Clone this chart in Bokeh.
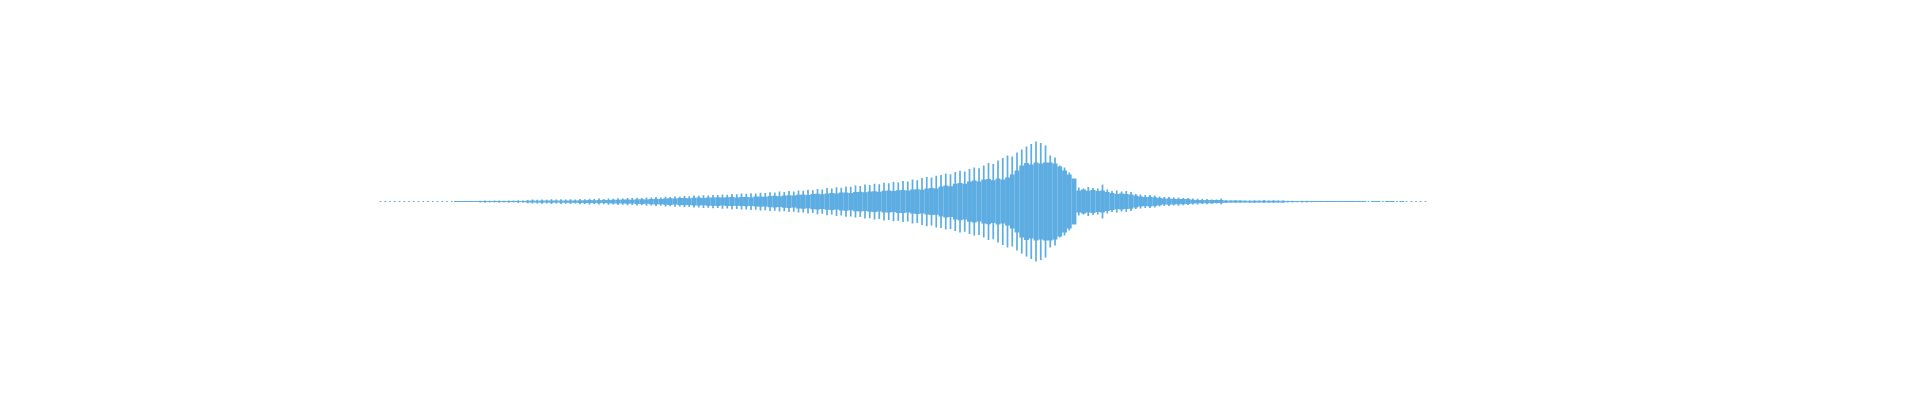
from bokeh.plotting import figure
from bokeh.models import ColumnDataSource, Range1d
from bokeh.embed import file_html
from bokeh.resources import INLINE

# envelope of the waveform, one value per period (half height, screen px)
peak = [
    0.5, 0.5, 0.5, 0.5, 0.5, 0.5, 0.5, 0.5, 0.5, 0.5,
    0.5, 0.5, 0.5, 0.5, 0.5, 0.5, 0.5, 0.5, 0.5, 0.5,
    0.5, 0.9, 1.1, 0.8, 1.0, 1.2, 0.9, 1.1, 1.0, 1.3,
    1.2, 1.6, 2.0, 1.8, 2.2, 1.9, 2.3, 2.0, 2.4, 2.1,
    2.3, 2.0, 2.6, 2.4, 2.8, 2.5, 3.0, 2.7, 3.2, 2.9,
    3.4, 3.1, 3.7, 3.5, 3.9, 3.6, 4.2, 4.0, 4.5, 4.2,
    4.8, 4.6, 5.2, 4.9, 5.7, 5.4, 6.0, 5.8, 6.4, 6.1,
    6.7, 6.5, 7.1, 6.9, 7.6, 7.3, 8.0, 7.8, 8.4, 8.1,
    8.9, 8.6, 9.4, 9.1, 10.0, 9.6, 10.5, 10.2, 11.0, 10.8,
    11.8, 11.3, 12.6, 12.2, 13.6, 13.0, 14.4, 13.9, 15.2, 14.8,
    16.0, 15.5, 17.0, 16.6, 17.9, 17.4, 18.8, 18.3, 19.6, 19.2,
    20.5, 20.0, 22.0, 21.4, 23.5, 24.6, 24.0, 25.8, 26.5, 28.0,
    27.4, 29.5, 30.8, 30.2, 32.5, 34.0, 33.3, 36.0, 38.5, 37.6,
    41.0, 43.5, 46.0, 45.0, 49.0, 52.0, 55.0, 57.5, 60.0, 58.5,
    56.0, 46.0, 44.0, 36.0, 34.0, 29.0, 15.0, 14.0, 13.0, 14.5,
    13.5, 13.0, 17.0, 12.0, 10.5, 11.0, 10.0, 10.5, 9.5, 7.5,
    7.0, 6.5, 6.5, 6.0, 5.0, 4.5, 4.5, 4.0, 4.2, 3.6,
    3.5, 3.0, 2.8, 2.5, 2.6, 2.2, 2.0, 3.0, 1.4, 1.2,
    1.3, 1.2, 1.0, 1.2, 1.4, 1.0, 1.5, 1.1, 1.3, 1.0,
    1.2, 0.8, 0.9, 0.7, 0.9, 0.8, 0.7, 0.5, 0.5, 0.5,
    0.5, 0.5, 0.5, 0.5, 0.5, 0.5, 0.5, 0.5, 0.5, 0.5,
    0.5, 0.5, 0.5, 0.5, 0.5, 0.5, 0.5, 0.5, 0.5, 0.5, 0.5,
]

# the filled body between the spikes
core = [
    0, 0, 0, 0, 0, 0, 0, 0, 0, 0, 0, 0, 0, 0, 0, 0,
    0.5, 0.5, 0.5, 0.5, 0.5,
    0.5, 0.5, 0.5, 0.5, 0.5, 0.5, 0.5, 0.5, 0.5, 0.5,
    0.8, 1.0, 0.9, 1.1, 1.0, 1.1, 1.0, 1.2, 1.1, 1.2,
    1.2, 1.4, 1.3, 1.5, 1.4, 1.6, 1.5, 1.7, 1.8, 1.9,
    2.0, 2.1, 1.9, 2.3, 2.4, 2.2, 2.7, 2.9, 2.6, 3.2,
    3.3, 3.0, 3.5, 3.7, 3.4, 3.8, 4.0, 3.7, 4.2, 4.1,
    4.3, 4.0, 4.4, 4.5, 4.2, 4.5, 4.6, 4.4, 5.0, 5.2,
    4.9, 5.6, 5.8, 5.4, 6.2, 6.4, 6.0, 6.9, 7.1, 6.6,
    7.6, 7.9, 7.4, 8.2, 8.5, 8.0, 9.0, 9.2, 8.7, 9.6,
    9.8, 9.3, 10.2, 10.4, 9.9, 10.8, 11.0, 10.5, 11.4, 11.5,
    11.0, 12.0, 12.3, 11.8, 13.0, 13.5, 13.2, 15.0, 16.0, 15.4,
    17.8, 18.6, 17.8, 20.2, 21.0, 20.0, 22.0, 22.6, 21.4, 23.0,
    22.0, 24.0, 27.0, 31.0, 36.0, 38.5, 37.0, 39.0, 38.0, 39.0,
    39.0, 38.0, 35.0, 31.0, 27.0, 23.0, 11.0, 12.0, 10.8, 11.5,
    10.5, 11.0, 9.5, 8.5, 7.6, 8.0, 7.5, 7.2, 6.0, 5.0,
    4.5, 4.8, 4.4, 3.6, 3.0, 3.2, 2.8, 2.7, 2.6, 2.5,
    1.8, 1.7, 1.7, 1.6, 1.6, 1.5, 1.5, 1.2, 1.0, 1.0,
    1.0, 0.9, 0.8, 0.8, 0.8, 0.8, 0.8, 0.8, 0.8, 0.8,
    0.5, 0.5, 0.5, 0.5, 0.5, 0.5,
    0.5, 0.5, 0.5, 0.5, 0.5, 0.5, 0.5, 0.5, 0.5,
    0.5, 0.5, 0, 0.5, 0.5, 0, 0.5, 0.5, 0, 0.5, 0,
    0, 0, 0, 0,
]

assert len(peak) == len(core)
idx = list(range(len(peak)))

source = ColumnDataSource(data=dict(
    x=idx,
    peak_top=peak,
    peak_bottom=[-v for v in peak],
    core_top=core,
    core_bottom=[-v for v in core],
))

color = "#5DADE2"

p = figure(width=1904, height=384, output_backend="svg", toolbar_location=None,
           x_range=Range1d(-80.0, 320.84), y_range=Range1d(-182.9, 201.1),
           min_border=0)
p.axis.visible = False
p.grid.visible = False
p.outline_line_color = None
p.background_fill_color = "white"
p.border_fill_color = "white"

# body
p.vbar(x="x", width=1.02, top="core_top", bottom="core_bottom", source=source,
       fill_color=color, line_color=None)
# spikes
p.vbar(x="x", width=0.36, top="peak_top", bottom="peak_bottom", source=source,
       fill_color=color, line_color=None)

open("out.html", "w").write(file_html(p, INLINE))
